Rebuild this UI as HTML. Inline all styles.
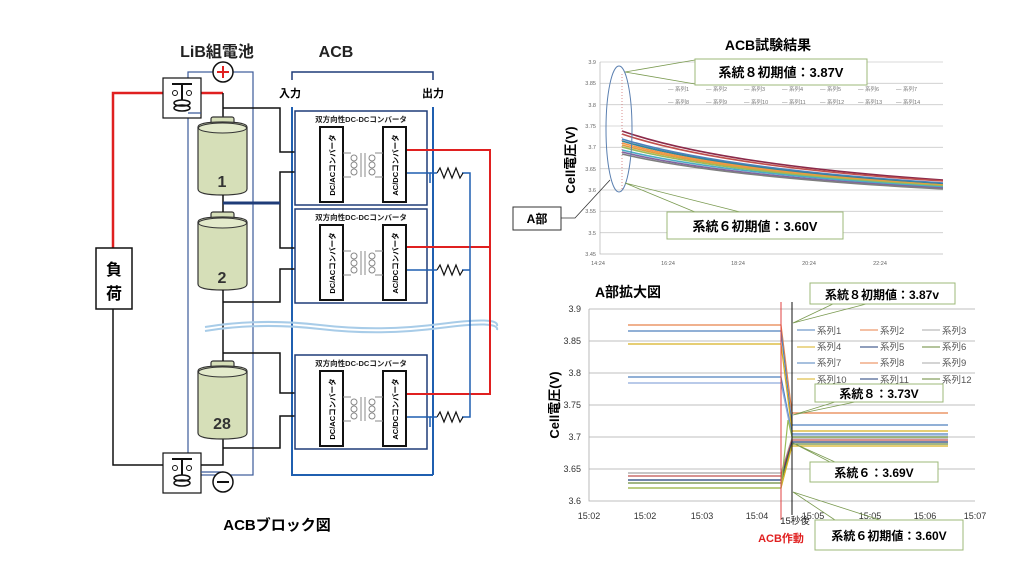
<!DOCTYPE html>
<html><head><meta charset="utf-8"><style>
html,body{margin:0;padding:0;background:#fff;}
svg{display:block;font-family:"Liberation Sans","Noto Sans CJK JP",sans-serif;}
</style></head><body>
<svg width="1024" height="576" viewBox="0 0 1024 576" xmlns="http://www.w3.org/2000/svg">
<defs>
<g id="conv">
  <rect x="0" y="0" width="132" height="94" fill="#fff" stroke="#1f3c78" stroke-width="1.5"/>
  <text x="66" y="11" font-size="7.5" font-weight="bold" text-anchor="middle" fill="#222">双方向性DC-DCコンバータ</text>
  <rect x="25" y="16" width="23" height="75" fill="#fff" stroke="#111" stroke-width="2"/>
  <rect x="88" y="16" width="23" height="75" fill="#fff" stroke="#111" stroke-width="2"/>
  <text transform="translate(40,54) rotate(-90)" font-size="7.5" font-weight="bold" text-anchor="middle">DC/ACコンバータ</text>
  <text transform="translate(103,54) rotate(-90)" font-size="7.5" font-weight="bold" text-anchor="middle">AC/DCコンバータ</text>
  <g fill="none" stroke="#888" stroke-width="1">
    <path d="M48,42 H56 M48,66 H56 M80,42 H88 M80,66 H88"/>
    <circle cx="59" cy="47" r="3"/><circle cx="59" cy="54" r="3"/><circle cx="59" cy="61" r="3"/>
    <circle cx="77" cy="47" r="3"/><circle cx="77" cy="54" r="3"/><circle cx="77" cy="61" r="3"/>
    <path d="M66,42 V66 M70,42 V66"/>
  </g>
</g>
<g id="cell">
  <rect x="13" y="0" width="23" height="10" rx="2" fill="#d6dfb8" stroke="#333" stroke-width="1.2"/>
  <path d="M0,10 Q0,5 24.5,5 Q49,5 49,10 V72 Q49,78 24.5,78 Q0,78 0,72 Z" fill="#d6dfb8" stroke="#333" stroke-width="1.2"/>
  <ellipse cx="24.5" cy="11" rx="24" ry="5" fill="#e3eacb" stroke="#333" stroke-width="1"/>
</g>
</defs>

<!-- ===== Left diagram ===== -->
<text x="217" y="57" font-size="16" font-weight="bold" text-anchor="middle" fill="#222">LiB組電池</text>
<text x="336" y="57" font-size="16" font-weight="bold" text-anchor="middle" fill="#222">ACB</text>

<rect x="188" y="72" width="65" height="403" fill="none" stroke="#3b5a9a" stroke-width="1.2"/>
<path d="M292,80 V72 H433 V80" fill="none" stroke="#1f3c78" stroke-width="1.5"/>
<text x="290" y="97" font-size="11" font-weight="bold" text-anchor="middle">入力</text>
<text x="433" y="97" font-size="11" font-weight="bold" text-anchor="middle">出力</text>
<path d="M292,107 V475 H433 M433,107 V475" fill="none" stroke="#1f5fb0" stroke-width="2"/>

<path d="M113,248 V93 H165 M197,93 H223" fill="none" stroke="#e02020" stroke-width="2.5"/>
<path d="M223,93 V117" fill="none" stroke="#111" stroke-width="1.5"/>
<path d="M113,309 V465 H165 M197,465 H223 V438" fill="none" stroke="#111" stroke-width="1.5"/>
<rect x="96" y="248" width="36" height="61" fill="#fff" stroke="#111" stroke-width="1.5"/>
<text x="114" y="275" font-size="16" font-weight="bold" text-anchor="middle">負</text>
<text x="114" y="299" font-size="16" font-weight="bold" text-anchor="middle">荷</text>

<g>
  <rect x="163" y="78" width="38" height="40" fill="#fff" stroke="#111" stroke-width="1.2"/>
  <path d="M172,84 H192 M182,84 V100" stroke="#111" stroke-width="2"/>
  <circle cx="175" cy="93" r="2.5" fill="none" stroke="#111"/><circle cx="189" cy="93" r="2.5" fill="none" stroke="#111"/>
  <ellipse cx="182" cy="103" rx="8" ry="3" fill="none" stroke="#111" stroke-width="1.5"/>
  <ellipse cx="182" cy="108" rx="8" ry="3" fill="none" stroke="#111" stroke-width="1.5"/>
</g>
<g transform="translate(0,375)">
  <rect x="163" y="78" width="38" height="40" fill="#fff" stroke="#111" stroke-width="1.2"/>
  <path d="M172,84 H192 M182,84 V100" stroke="#111" stroke-width="2"/>
  <circle cx="175" cy="93" r="2.5" fill="none" stroke="#111"/><circle cx="189" cy="93" r="2.5" fill="none" stroke="#111"/>
  <ellipse cx="182" cy="103" rx="8" ry="3" fill="none" stroke="#111" stroke-width="1.5"/>
  <ellipse cx="182" cy="108" rx="8" ry="3" fill="none" stroke="#111" stroke-width="1.5"/>
</g>
<path d="M201,113 H188 M201,472 H223" stroke="#3b5a9a" stroke-width="1.2"/>
<circle cx="223" cy="72" r="10" fill="#fff" stroke="#111" stroke-width="1.5"/>
<path d="M217,72 H229 M223,66 V78" stroke="#e02020" stroke-width="2"/>
<circle cx="223" cy="482" r="10" fill="#fff" stroke="#111" stroke-width="1.5"/>
<path d="M217,482 H229" stroke="#111" stroke-width="2"/>

<use href="#cell" x="198" y="117"/>
<use href="#cell" x="198" y="212"/>
<use href="#cell" x="198" y="361"/>
<text x="222" y="187" font-size="16" font-weight="bold" text-anchor="middle" fill="#333">1</text>
<text x="222" y="283" font-size="16" font-weight="bold" text-anchor="middle" fill="#333">2</text>
<text x="222" y="429" font-size="16" font-weight="bold" text-anchor="middle" fill="#333">28</text>
<path d="M223,195 V212 M223,290 V361" stroke="#111" stroke-width="1.5"/>

<g fill="none" stroke="#111" stroke-width="1.5">
  <path d="M223,108 H280 V152 H320"/>
  <path d="M280,203 V172 H320"/>
  <path d="M280,203 V248 H320"/>
  <path d="M223,302 H280 V269 H320"/>
  <path d="M223,353 H280 V393 H320"/>
  <path d="M223,448 H280 V416 H320"/>
</g>
<path d="M223,203 H280" stroke="#1f3c78" stroke-width="3"/>

<path d="M205,327 Q260,318 320,325 T440,324 T497,326" fill="none" stroke="#a8cce8" stroke-width="2"/>
<path d="M205,331 Q260,322 320,329 T440,328 T497,330" fill="none" stroke="#a8cce8" stroke-width="2"/>

<use href="#conv" x="295" y="111"/>
<use href="#conv" x="295" y="209"/>
<use href="#conv" x="295" y="355"/>

<path d="M407,150 H490 V394 H407 M407,247 H490" fill="none" stroke="#e02020" stroke-width="2"/>
<g fill="none" stroke="#1f5fb0" stroke-width="1.5">
  <path d="M407,173 H430 V183 M407,270 H430 M407,417 H430 V427"/>
  <path d="M462,173 H470 V417 H462 M462,270 H470"/>
</g>
<g fill="none" stroke="#111" stroke-width="1.2">
  <path d="M437,173 l3,-5 l4,10 l4,-10 l4,10 l4,-10 l4,10 l3,-5"/>
  <path d="M437,270 l3,-5 l4,10 l4,-10 l4,10 l4,-10 l4,10 l3,-5"/>
  <path d="M437,417 l3,-5 l4,10 l4,-10 l4,10 l4,-10 l4,10 l3,-5"/>
</g>
<path d="M430,173 H437 M430,270 H437 M430,417 H437" stroke="#1f5fb0" stroke-width="1.5"/>

<text x="277" y="530" font-size="15" font-weight="bold" text-anchor="middle">ACBブロック図</text>

<!-- ===== Top right chart ===== -->
<text x="768" y="50" font-size="14" font-weight="bold" text-anchor="middle">ACB試験結果</text>
<g stroke="#ccc" stroke-width="0.8">
  <path d="M600,62 H943 M600,83.3 H943 M600,104.7 H943 M600,126 H943 M600,147.3 H943 M600,168.7 H943 M600,190 H943 M600,211.3 H943 M600,232.7 H943"/>
</g>
<path d="M600,62 V254 H943" fill="none" stroke="#bbb" stroke-width="0.8"/>
<g font-size="5.5" fill="#666" text-anchor="end">
  <text x="596" y="64">3.9</text><text x="596" y="85">3.85</text><text x="596" y="107">3.8</text>
  <text x="596" y="128">3.75</text><text x="596" y="149">3.7</text><text x="596" y="171">3.65</text>
  <text x="596" y="192">3.6</text><text x="596" y="213">3.55</text><text x="596" y="235">3.5</text><text x="596" y="256">3.45</text>
</g>
<g font-size="5.5" fill="#666" text-anchor="middle">
  <text x="598" y="265">14:24</text><text x="668" y="265">16:24</text><text x="738" y="265">18:24</text><text x="809" y="265">20:24</text><text x="880" y="265">22:24</text>
</g>
<text transform="translate(575,160) rotate(-90)" font-size="13" font-weight="bold" text-anchor="middle">Cell電圧(V)</text>
<g fill="none" stroke-width="1.6">
  <path d="M622,131 Q720,165 943,180" stroke="#8b2a4a"/>
  <path d="M622,134 Q720,167 943,181" stroke="#c0504d"/>
  <path d="M622,139 Q720,169 943,183" stroke="#4f81bd"/>
  <path d="M622,141 Q720,170 943,184" stroke="#31859c"/>
  <path d="M622,143 Q720,171 943,185" stroke="#f79646"/>
  <path d="M622,145 Q720,172 943,185" stroke="#e0a040"/>
  <path d="M622,147 Q720,173 943,186" stroke="#9bbb59"/>
  <path d="M622,150 Q720,174 943,187" stroke="#4bacc6"/>
  <path d="M622,152 Q720,176 943,188" stroke="#8064a2"/>
  <path d="M622,154 Q720,177 943,189" stroke="#7f7f7f"/>
</g>
<path d="M622,74 V189" stroke="#d07070" stroke-width="0.8" stroke-dasharray="1,2"/>
<g font-size="5.5" fill="#777">
  <text x="668" y="91">— 系列1</text><text x="706" y="91">— 系列2</text><text x="744" y="91">— 系列3</text><text x="782" y="91">— 系列4</text><text x="820" y="91">— 系列5</text><text x="858" y="91">— 系列6</text><text x="896" y="91">— 系列7</text>
  <text x="668" y="104">— 系列8</text><text x="706" y="104">— 系列9</text><text x="744" y="104">— 系列10</text><text x="782" y="104">— 系列11</text><text x="820" y="104">— 系列12</text><text x="858" y="104">— 系列13</text><text x="896" y="104">— 系列14</text>
</g>
<ellipse cx="619" cy="129" rx="13" ry="63" fill="none" stroke="#5a7fb0" stroke-width="1"/>
<path d="M625,72 L695,60 M625,72 L695,84 M625,183 L695,212 M625,183 L740,212" stroke="#7a9a50" stroke-width="0.8"/>
<path d="M561,218 H575 L610,180" fill="none" stroke="#333" stroke-width="0.8"/>
<rect x="695" y="59" width="172" height="26" fill="#fff" stroke="#9cb878" stroke-width="1"/>
<text x="781" y="77" font-size="13" font-weight="bold" text-anchor="middle">系統８初期値：3.87V</text>
<rect x="667" y="212" width="176" height="27" fill="#fff" stroke="#9cb878" stroke-width="1"/>
<text x="755" y="231" font-size="13" font-weight="bold" text-anchor="middle">系統６初期値：3.60V</text>
<rect x="513" y="207" width="48" height="23" fill="#fff" stroke="#333" stroke-width="1"/>
<text x="537" y="223" font-size="12" font-weight="bold" text-anchor="middle">A部</text>

<!-- ===== Bottom right chart ===== -->
<text x="628" y="297" font-size="14" font-weight="bold" text-anchor="middle">A部拡大図</text>
<g stroke="#aaa" stroke-width="0.8">
  <path d="M589,309 H975 M589,341 H975 M589,373 H975 M589,405 H975 M589,437 H975 M589,469 H975"/>
</g>
<path d="M589,309 V501 H975" fill="none" stroke="#aaa" stroke-width="0.8"/>
<g font-size="9" fill="#333" text-anchor="end">
  <text x="581" y="312">3.9</text><text x="581" y="344">3.85</text><text x="581" y="376">3.8</text>
  <text x="581" y="408">3.75</text><text x="581" y="440">3.7</text><text x="581" y="472">3.65</text><text x="581" y="504">3.6</text>
</g>
<g font-size="9" fill="#333" text-anchor="middle">
  <text x="589" y="519">15:02</text><text x="645" y="519">15:02</text><text x="702" y="519">15:03</text><text x="757" y="519">15:04</text>
  <text x="813" y="519">15:05</text><text x="870" y="519">15:05</text><text x="925" y="519">15:06</text><text x="975" y="519">15:07</text>
</g>
<text transform="translate(559,405) rotate(-90)" font-size="13" font-weight="bold" text-anchor="middle">Cell電圧(V)</text>
<g fill="none" stroke-width="1.2">
  <path d="M628,325 H781 L792,413 H948" stroke="#e8824a"/>
  <path d="M628,331 H781 L792,425 H948" stroke="#4f81bd"/>
  <path d="M628,344 H781 L792,431 H948" stroke="#d8b020"/>
  <path d="M628,377 H781 L792,434 H948" stroke="#4f81bd"/>
  <path d="M628,383 H781 L792,436 H948" stroke="#8faadc"/>
  <path d="M628,473 H781 L792,438 H948" stroke="#a5a5a5"/>
  <path d="M628,476 H781 L792,440 H948" stroke="#c0504d"/>
  <path d="M628,480 H781 L792,442 H948" stroke="#1f3c78"/>
  <path d="M628,483 H781 L792,444 H948" stroke="#6a8a3a"/>
  <path d="M628,488 H781 L792,446 H948" stroke="#d8b020"/>
  <path d="M628,488 H781 L788,420 L792,437 H948" stroke="#9bbb59"/>
</g>
<path d="M781,302 V520" stroke="#e04040" stroke-width="1"/>
<path d="M792,302 V515" stroke="#111" stroke-width="1"/>
<g font-size="9.5" fill="#555">
  <g stroke-width="1">
    <path d="M797,330 H815" stroke="#4f81bd"/><path d="M860,330 H878" stroke="#e8824a"/><path d="M922,330 H940" stroke="#aaa"/>
    <path d="M797,347 H815" stroke="#d8b020"/><path d="M860,347 H878" stroke="#1f3c78"/><path d="M922,347 H940" stroke="#6a8a3a"/>
    <path d="M797,363 H815" stroke="#4f81bd"/><path d="M860,363 H878" stroke="#e8824a"/><path d="M922,363 H940" stroke="#aaa"/>
    <path d="M797,379 H815" stroke="#d8b020"/><path d="M860,379 H878" stroke="#1f3c78"/><path d="M922,379 H940" stroke="#6a8a3a"/>
  </g>
  <text x="817" y="334">系列1</text><text x="880" y="334">系列2</text><text x="942" y="334">系列3</text>
  <text x="817" y="350">系列4</text><text x="880" y="350">系列5</text><text x="942" y="350">系列6</text>
  <text x="817" y="366">系列7</text><text x="880" y="366">系列8</text><text x="942" y="366">系列9</text>
  <text x="817" y="383">系列10</text><text x="880" y="383">系列11</text><text x="942" y="383">系列12</text>
</g>
<path d="M793,323 L835,303 M793,323 L870,303 M793,415 L835,402 M793,415 L855,402 M793,443 L835,462 M793,443 L830,462 M793,492 L835,520 M793,492 L880,520" stroke="#7a9a50" stroke-width="0.8"/>
<rect x="810" y="283" width="145" height="21" fill="#fff" stroke="#9cb878"/>
<text x="882" y="299" font-size="12" font-weight="bold" text-anchor="middle">系統８初期値：3.87v</text>
<rect x="815" y="384" width="128" height="18" fill="#fff" stroke="#9cb878"/>
<text x="879" y="398" font-size="12" font-weight="bold" text-anchor="middle">系統８：3.73V</text>
<rect x="810" y="462" width="128" height="20" fill="#fff" stroke="#9cb878"/>
<text x="874" y="477" font-size="12" font-weight="bold" text-anchor="middle">系統６：3.69V</text>
<rect x="815" y="520" width="148" height="30" fill="#fff" stroke="#9cb878"/>
<text x="889" y="540" font-size="12" font-weight="bold" text-anchor="middle">系統６初期値：3.60V</text>
<text x="795" y="524" font-size="9.5" text-anchor="middle" fill="#222">15秒後</text>
<text x="781" y="542" font-size="11" font-weight="bold" text-anchor="middle" fill="#e02020">ACB作動</text>
</svg>
</body></html>
